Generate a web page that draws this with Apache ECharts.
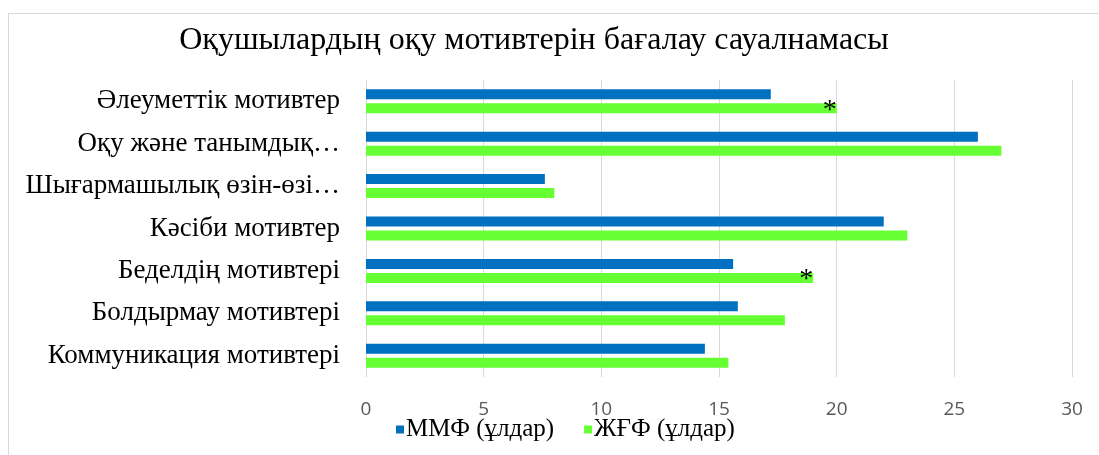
<!DOCTYPE html>
<html>
<head>
<meta charset="utf-8">
<script src="https://cdn.jsdelivr.net/npm/echarts@6/dist/echarts.min.js"></script>
</head>
<body style="margin:0;background:#fff">
<div style="position:absolute;left:8px;top:13px;width:1100px;height:460px;border:1px solid #d9d9d9;box-sizing:border-box"></div>
<div id="container" style="position:absolute;left:0;top:0;width:1099px;height:455px"></div>
<script>
    // categories, top to bottom as drawn
    var categories = ['Әлеуметтік мотивтер', 'Оқу және танымдық…', 'Шығармашылық өзін-өзі…',
        'Кәсіби мотивтер', 'Беделдің мотивтері', 'Болдырмау мотивтері', 'Коммуникация мотивтері'];
    var mmf = [17.2, 26, 7.6, 22, 15.6, 15.8, 14.4];
    var zhgf = [20, 27, 8, 23, 19, 17.8, 15.4];
    var marks = ['*', '', '', '', '*', '', ''];
    var seriesNames = ['ММФ (ұлдар)', 'ЖҒФ (ұлдар)'];

    var myChart = echarts.init(document.getElementById('container'), null, {renderer: 'canvas'});
    var serif = '"Liberation Serif", "DejaVu Serif", serif';

    var option = {
        animation: false,
        title: {
            text: 'Оқушылардың оқу мотивтерін бағалау сауалнамасы',
            left: 529,
            textAlign: 'center',
            top: 20,
            textStyle: {fontFamily: serif, fontSize: 32, fontWeight: 'normal', color: '#000'}
        },
        legend: {
            left: 391,
            top: 412,
            itemWidth: 8,
            itemHeight: 8,
            itemGap: 30,
            icon: 'rect',
            textStyle: {fontFamily: serif, fontSize: 25, color: '#000', padding: [0, 0, 0, -3]},
            data: seriesNames
        },
        grid: {left: 366, right: 27, top: 80, bottom: 78, containLabel: false},
        xAxis: {
            type: 'value',
            min: 0, max: 30, interval: 5,
            axisLine: {show: false},
            axisTick: {show: false},
            axisLabel: {color: '#595959', fontFamily: '"Open Sans", sans-serif', fontSize: 19, margin: 23},
            splitLine: {lineStyle: {color: '#d9d9d9', width: 1}}
        },
        yAxis: {
            type: 'category',
            inverse: true,
            data: categories,
            axisLine: {show: false},
            axisTick: {show: false},
            axisLabel: {color: '#000', fontFamily: serif, fontSize: 27, margin: 26}
        },
        series: [
            {
                name: seriesNames[0],
                type: 'bar',
                data: mmf,
                barWidth: 10,
                barGap: '40%',
                itemStyle: {color: '#0070c0'}
            },
            {
                name: seriesNames[1],
                type: 'bar',
                data: zhgf.map(function (v, i) {
                    return {value: v, label: {show: marks[i] !== '', formatter: marks[i]}};
                }),
                barWidth: 10,
                itemStyle: {color: '#66ff33'},
                label: {
                    position: 'insideRight',
                    distance: 0,
                    offset: [0, 2],
                    fontFamily: serif,
                    fontSize: 28,
                    color: '#000'
                }
            }
        ]
    };
    myChart.setOption(option);
</script>
</body>
</html>
